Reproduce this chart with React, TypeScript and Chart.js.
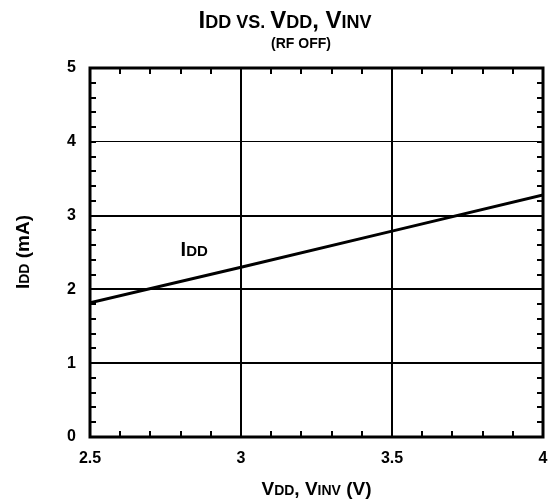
import React, { useEffect, useRef } from "react";
import { Chart, registerables } from "chart.js";

Chart.register(...registerables);

const vdd = [2.5, 3.0, 3.5, 4.0];
const idd = [1.82, 2.3, 2.79, 3.28];
const xTicks = [2.5, 3, 3.5, 4];
const yTicks = [0, 1, 2, 3, 4, 5];
const lineLabelPos = { x: 2.845, y: 2.55 };

const FONT = "Arial, 'Liberation Sans', sans-serif";

type Seg = { t: string; s: number };

function drawRich(ctx: CanvasRenderingContext2D, segs: Seg[], cx: number, cy: number) {
  let total = 0;
  const widths = segs.map((sg) => {
    ctx.font = `bold ${sg.s}px ${FONT}`;
    const w = ctx.measureText(sg.t).width;
    total += w;
    return w;
  });
  let x = cx - total / 2;
  ctx.textBaseline = "alphabetic";
  ctx.textAlign = "left";
  segs.forEach((sg, i) => {
    ctx.font = `bold ${sg.s}px ${FONT}`;
    ctx.fillText(sg.t, x, cy);
    x += widths[i];
  });
}

const decorPlugin = {
  id: "decor",
  afterDatasetsDraw(chart: any) {
    const ctx: CanvasRenderingContext2D = chart.ctx;
    const { left, right, top, bottom } = chart.chartArea;
    const xs = chart.scales.x;
    const ys = chart.scales.y;
    ctx.save();
    ctx.fillStyle = "#000";
    ctx.strokeStyle = "#000";
    // minor ticks
    ctx.lineWidth = 2;
    const tl = 6;
    for (let i = 1; i < 15; i++) {
      const v = 2.5 + i * 0.1;
      const px = Math.round(xs.getPixelForValue(v));
      ctx.beginPath();
      ctx.moveTo(px, bottom);
      ctx.lineTo(px, bottom - tl);
      ctx.moveTo(px, top);
      ctx.lineTo(px, top + tl);
      ctx.stroke();
    }
    for (let i = 1; i < 25; i++) {
      const v = i * 0.2;
      const py = Math.round(ys.getPixelForValue(v));
      ctx.beginPath();
      ctx.moveTo(left, py);
      ctx.lineTo(left + tl, py);
      ctx.moveTo(right, py);
      ctx.lineTo(right - tl, py);
      ctx.stroke();
    }
    // frame
    ctx.lineWidth = 3;
    ctx.strokeRect(left, top, right - left, bottom - top);

    // line label
    const lx = xs.getPixelForValue(lineLabelPos.x);
    const ly = ys.getPixelForValue(lineLabelPos.y);
    drawRich(ctx, [{ t: "I", s: 20 }, { t: "DD", s: 15 }], lx, ly + 7);

    // title
    drawRich(
      ctx,
      [
        { t: "I", s: 24 },
        { t: "DD VS. ", s: 18 },
        { t: "V", s: 24 },
        { t: "DD", s: 18 },
        { t: ", V", s: 24 },
        { t: "INV", s: 18 },
      ],
      285,
      28
    );
    drawRich(ctx, [{ t: "(RF OFF)", s: 14 }], 301, 48);

    // x axis title
    drawRich(
      ctx,
      [
        { t: "V", s: 19 },
        { t: "DD", s: 14 },
        { t: ", V", s: 19 },
        { t: "INV", s: 14 },
        { t: " (V)", s: 19 },
      ],
      (left + right) / 2,
      495
    );
    // y axis title
    ctx.save();
    ctx.translate(29, 252);
    ctx.rotate(-Math.PI / 2);
    drawRich(ctx, [{ t: "I", s: 19 }, { t: "DD", s: 14 }, { t: " (mA)", s: 19 }], 0, 0);
    ctx.restore();
    ctx.restore();
  },
};

export default function App() {
  const ref = useRef<HTMLCanvasElement | null>(null);
  useEffect(() => {
    if (!ref.current) return;
    const chart = new Chart(ref.current, {
      type: "line",
      data: {
        datasets: [
          {
            label: "IDD",
            data: vdd.map((v, i) => ({ x: v, y: idd[i] })),
            borderColor: "#000",
            borderWidth: 3,
            pointRadius: 0,
            tension: 0,
          },
        ],
      },
      options: {
        responsive: false,
        animation: false,
        layout: { padding: { top: 68, right: 0, left: 0, bottom: 0 } },
        plugins: {
          legend: { display: false },
          tooltip: { enabled: false },
        },
        scales: {
          x: {
            type: "linear",
            min: 2.5,
            max: 4,
            afterBuildTicks: (s: any) => {
              s.ticks = xTicks.map((v) => ({ value: v }));
            },
            afterFit: (s: any) => {
              s.height = 64;
              s.paddingRight = 6;
            },
            ticks: {
              color: "#000",
              font: { family: FONT, size: 16, weight: "bold" },
              padding: 12,
              maxRotation: 0,
              callback: (v: any) => String(v),
            },
            grid: {
              color: "#000",
              lineWidth: (c: any) => (c.tick && (c.tick.value === 2.5 || c.tick.value === 4) ? 0 : 2),
              drawTicks: false,
            },
            border: { display: false },
          },
          y: {
            min: 0,
            max: 5,
            afterBuildTicks: (s: any) => {
              s.ticks = yTicks.map((v) => ({ value: v }));
            },
            afterFit: (s: any) => {
              s.width = 90;
            },
            ticks: {
              color: "#000",
              font: { family: FONT, size: 16, weight: "bold" },
              padding: 14,
              callback: (v: any) => String(v),
            },
            grid: {
              color: "#000",
              lineWidth: (c: any) => {
                const v = c.tick ? c.tick.value : -1;
                if (v === 0 || v === 5) return 0;
                if (v === 4) return 1;
                return 2;
              },
              drawTicks: false,
            },
            border: { display: false },
          },
        },
      },
      plugins: [decorPlugin],
    } as any);
    return () => chart.destroy();
  }, []);
  return (
    <div style={{ position: "absolute", left: 0, top: 0, width: 549, height: 501, background: "#fff" }}>
      <canvas ref={ref} width={549} height={501} style={{ width: 549, height: 501, display: "block" }} />
    </div>
  );
}
